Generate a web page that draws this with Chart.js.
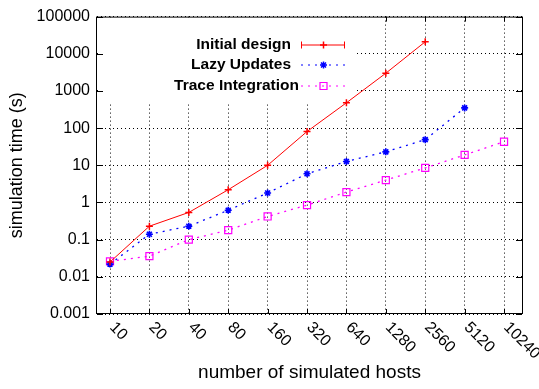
<!DOCTYPE html>
<html><head><meta charset="utf-8">
<script src="https://cdn.jsdelivr.net/npm/chart.js@4/dist/chart.umd.min.js"></script>
<style>html,body{margin:0;padding:0;background:#fff}#wrap{width:539px;height:389px;position:relative}</style>
</head><body><div id="wrap"><canvas id="c" width="539" height="389"></canvas></div>
<script>
const hosts = ['10','20','40','80','160','320','640','1280','2560','5120','10240'];
const initialDesign = [0.025,0.23,0.54,2.2,10,81,480,3000,21000,null,null];
const lazyUpdates = [0.022,0.14,0.23,0.62,1.8,5.9,12.7,23,49,350,null];
const traceIntegration = [0.026,0.036,0.10,0.18,0.42,0.85,1.9,4.0,8.5,19,43];
const yTicks = [0.001,0.01,0.1,1,10,100,1000,10000,100000];
const seriesLabels = ['Initial design','Lazy Updates','Trace Integration'];
const seriesColors = ['#ff0000','#0000ff','#ff00ff'];

const FONT = '"Liberation Sans", Arial, sans-serif';
function pts(arr){ const out=[]; arr.forEach((v,i)=>{ if(v!==null) out.push({x:i,y:v}); }); return out; }

function drawMarker(ctx, style, x, y, color){
  ctx.save();
  ctx.strokeStyle = color; ctx.setLineDash([]);
  ctx.beginPath();
  if(style==='cross'){ ctx.lineWidth=1.5; ctx.moveTo(x-3.5,y); ctx.lineTo(x+3.5,y); ctx.moveTo(x,y-3.5); ctx.lineTo(x,y+3.5); }
  else if(style==='star'){ ctx.lineWidth=1.5; ctx.moveTo(x-3.5,y); ctx.lineTo(x+3.5,y); ctx.moveTo(x,y-3.5); ctx.lineTo(x,y+3.5);
    ctx.moveTo(x-2.5,y-2.5); ctx.lineTo(x+2.5,y+2.5); ctx.moveTo(x-2.5,y+2.5); ctx.lineTo(x+2.5,y-2.5); }
  else { ctx.lineWidth=1.2; ctx.rect(x-3.5,y-3.5,7,7); }
  ctx.stroke(); ctx.restore();
}

const decor = {
  id:'decor',
  beforeDatasetsDraw(chart){
    const ctx=chart.ctx, ca=chart.chartArea;
    ctx.save();
    ctx.fillStyle='#fff';
    ctx.fillRect(ca.left+1, ca.top+1, 256, 86);
    const rows=[44.5,64.5,85.5];
    const textRight=[291,291,299];
    const styles=['cross','star','rect'];
    ctx.font='bold 15.5px '+FONT; ctx.textAlign='right'; ctx.textBaseline='middle';
    for(let i=0;i<3;i++){
      const y=rows[i];
      ctx.fillStyle='#000';
      ctx.fillText(seriesLabels[i], textRight[i], y);
      ctx.strokeStyle=seriesColors[i]; ctx.lineWidth=1;
      ctx.setLineDash(i===0?[]:[2,5]);
      ctx.beginPath(); ctx.moveTo(301,y+0.5); ctx.lineTo(345,y+0.5); ctx.stroke();
      ctx.setLineDash([]);
      if(i===0){ ctx.beginPath(); ctx.moveTo(301.5,y-3); ctx.lineTo(301.5,y+4); ctx.moveTo(344.5,y-3); ctx.lineTo(344.5,y+4); ctx.stroke(); }
      drawMarker(ctx, styles[i], 323.5, y+0.5, seriesColors[i]);
    }
    ctx.restore();
  },
  afterDraw(chart){
    const ctx=chart.ctx, ca=chart.chartArea;
    const xs=chart.scales.x, ys=chart.scales.y;
    ctx.save();
    ctx.strokeStyle='#000'; ctx.lineWidth=1; ctx.setLineDash([]);
    ctx.strokeRect(ca.left-0.5, ca.top+0.5, ca.right-ca.left+1, ca.bottom-ca.top-1);
    ctx.beginPath();
    yTicks.forEach(v=>{ const y=Math.round(ys.getPixelForValue(v))+0.5;
      ctx.moveTo(ca.left,y); ctx.lineTo(ca.left+6,y); ctx.moveTo(ca.right-6,y); ctx.lineTo(ca.right,y); });
    hosts.forEach((h,i)=>{ const x=Math.round(xs.getPixelForValue(i))+0.5;
      ctx.moveTo(x,ca.bottom); ctx.lineTo(x,ca.bottom-5);
      if(x>ca.left+258){ ctx.moveTo(x,ca.top); ctx.lineTo(x,ca.top+5); } });
    ctx.stroke();
    ctx.font='16px '+FONT; ctx.fillStyle='#000'; ctx.textAlign='left'; ctx.textBaseline='middle';
    hosts.forEach((h,i)=>{ const x=xs.getPixelForValue(i);
      ctx.save(); ctx.translate(x+2, ca.bottom+11); ctx.rotate(Math.PI/4); ctx.fillText(h,0,0); ctx.restore(); });
    ctx.restore();
  }
};

new Chart(document.getElementById('c'), {
  type:'line',
  data:{ datasets:[
    { label:seriesLabels[0], data:pts(initialDesign), borderColor:seriesColors[0], borderWidth:1, pointStyle:'cross', pointRadius:3.5, pointBorderWidth:1.5, pointBorderColor:seriesColors[0], fill:false, tension:0 },
    { label:seriesLabels[1], data:pts(lazyUpdates), borderColor:seriesColors[1], borderWidth:1.3, borderDash:[2,5], pointStyle:'star', pointRadius:3.5, pointBorderWidth:1.6, pointBorderColor:seriesColors[1], fill:false, tension:0 },
    { label:seriesLabels[2], data:pts(traceIntegration), borderColor:seriesColors[2], borderWidth:1.3, borderDash:[2,5], pointStyle:'rect', pointRadius:5, pointBorderWidth:1.2, pointBorderColor:seriesColors[2], pointBackgroundColor:'rgba(0,0,0,0)', fill:false, tension:0 }
  ]},
  options:{
    responsive:false, animation:false, devicePixelRatio:1,
    layout:{ padding:{ top:15, right:17, left:0, bottom:0 } },
    plugins:{ legend:{display:false}, tooltip:{enabled:false} },
    scales:{
      x:{ type:'linear', min:-0.33, max:10.456,
        afterBuildTicks:s=>{ s.ticks = hosts.map((h,i)=>({value:i})); },
        afterFit:s=>{ s.height = 75; },
        ticks:{ display:false },
        grid:{ color:'#000', lineWidth:1, drawTicks:false },
        border:{ display:false, dash:[1,3] },
        title:{ display:true, text:'number of simulated hosts', color:'#000', font:{ family:FONT, size:19 }, padding:{ top:0, bottom:5 } }
      },
      y:{ type:'logarithmic', min:0.001, max:100000,
        afterBuildTicks:s=>{ s.ticks = yTicks.map(v=>({value:v})); },
        afterFit:s=>{ s.width = 97; },
        ticks:{ color:'#000', font:{ family:FONT, size:16 }, padding:7, callback:v=>String(v) },
        grid:{ color:'#000', lineWidth:1, drawTicks:false },
        border:{ display:false, dash:[1,3] },
        title:{ display:true, text:'simulation time (s)', color:'#000', font:{ family:FONT, size:18 }, padding:{ top:6, bottom:0 } }
      }
    }
  },
  plugins:[decor]
});
</script></body></html>
